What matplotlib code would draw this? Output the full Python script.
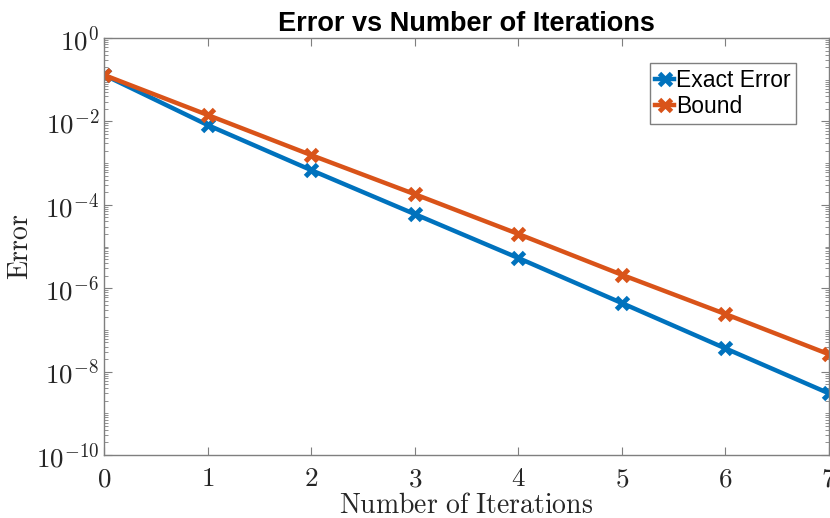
import math
import matplotlib
matplotlib.use("Agg")
import matplotlib.pyplot as plt
import matplotlib.ticker as ticker

# Values
iterations = [0, 1, 2, 3, 4, 5, 6, 7]
exactError = [0.13, 8.2e-3, 6.8e-4, 6.0e-5, 5.3e-6, 4.4e-7, 3.6e-8, 3.0e-9]
bound = [0.13, 1.43e-2, 1.56e-3, 1.8e-4, 2.0e-5, 2.1e-6, 2.4e-7, 2.6e-8]

seriesLabels = ["Exact Error", "Bound"]
titleText = "Error vs Number of Iterations"

plt.rcParams["mathtext.fontset"] = "cm"

blue = "#0072BD"
orange = "#D95319"
axisColor = "#7f7f7f"
textColor = "#262626"
tickFontSize = 19.5
labelFontSize = 20

fig = plt.figure(figsize=(8.3, 5.18), dpi=100)
ax = fig.add_axes([0.1253, 0.1216, 0.8735, 0.805])

for values, color, label in [(exactError, blue, seriesLabels[0]),
                             (bound, orange, seriesLabels[1])]:
    ax.plot(iterations, values, color=color, linewidth=3.2, marker="x",
            markersize=9, markeredgewidth=3.5, label=label)

ax.set_yscale("log")
ax.set_xlim(0, 7)
ax.set_ylim(1e-10, 1e0)
ax.yaxis.set_major_locator(ticker.FixedLocator([10.0 ** k for k in range(-10, 1, 2)]))
ax.yaxis.set_minor_locator(ticker.LogLocator(base=10, subs=range(1, 10), numticks=40))
ax.yaxis.set_minor_formatter(ticker.NullFormatter())
ax.yaxis.set_major_formatter(ticker.FuncFormatter(
    lambda v, pos: r"$10^{%d}$" % round(math.log10(v))))
ax.xaxis.set_major_locator(ticker.MultipleLocator(1))
ax.xaxis.set_major_formatter(ticker.FuncFormatter(lambda v, pos: r"$%d$" % v))

for spine in ax.spines.values():
    spine.set_color(axisColor)
    spine.set_linewidth(1.0)

ax.tick_params(which="both", direction="in", top=True, right=True,
               colors=axisColor, labelcolor=textColor, labelsize=tickFontSize)
ax.tick_params(which="major", length=6)
ax.tick_params(which="minor", length=3)
ax.tick_params(axis="x", pad=8)

ax.set_xlabel(r"$\mathrm{Number\ of\ Iterations}$", fontsize=labelFontSize,
              color=textColor, labelpad=-1)
ax.set_ylabel(r"$\mathrm{Error}$", fontsize=labelFontSize, color=textColor,
              labelpad=1)
ax.set_title(titleText, fontsize=19.5, fontweight="bold",
             family="Liberation Sans", pad=5)

legend = ax.legend(loc="upper right", bbox_to_anchor=(0.955, 0.94),
                   prop={"family": "Liberation Sans", "size": 16.5},
                   handlelength=0.8, handletextpad=0.1, borderpad=0.25,
                   borderaxespad=0, labelspacing=0.15, fancybox=False,
                   framealpha=1)
legend.get_frame().set_edgecolor(axisColor)
legend.get_frame().set_linewidth(1.0)

fig.savefig("out.png", dpi=100)
